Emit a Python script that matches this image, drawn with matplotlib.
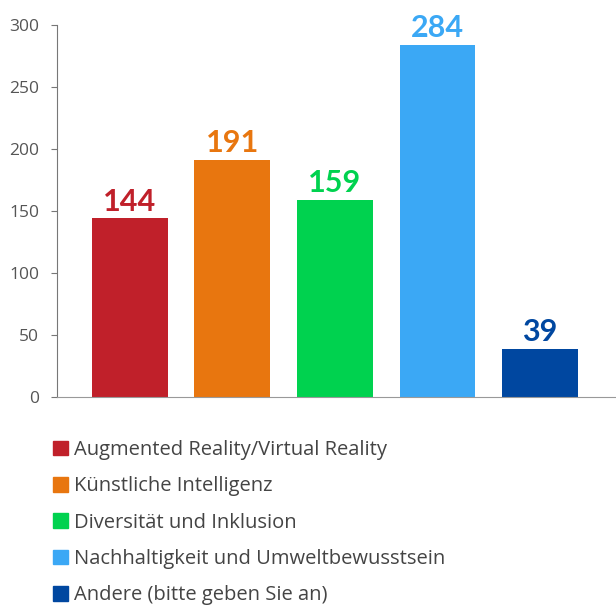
import matplotlib
matplotlib.use("Agg")
import matplotlib.pyplot as plt
from matplotlib.patches import Patch

plt.rcParams['font.family'] = ['Open Sans', 'DejaVu Sans']

categories = ['Augmented Reality/Virtual Reality', 'Künstliche Intelligenz',
              'Diversität und Inklusion', 'Nachhaltigkeit und Umweltbewusstsein',
              'Andere (bitte geben Sie an)']
values = [144, 191, 159, 284, 39]
colors = ['#C0202A', '#E8760F', '#00D24F', '#3BA8F5', '#0047A0']
yticks = [0, 50, 100, 150, 200, 250, 300]

fig = plt.figure(figsize=(6.16, 6.05), dpi=100)
ax = fig.add_axes([57/616, 1-397/605, 1-57/616, (397-25)/605])

x = list(range(len(values)))
bars = ax.bar(x, values, width=0.74, color=colors)
# Werte über den Balken
for b, c in zip(bars, colors):
    ax.annotate(str(int(b.get_height())), (b.get_x()+b.get_width()/2, b.get_height()),
                xytext=(0, 2), textcoords='offset points', ha='center', va='bottom',
                fontsize=22, fontweight='bold', color=c, family=['Lato', 'DejaVu Sans'])

ax.set_xlim(-0.71, 4.74)
ax.set_ylim(0, 300)
ax.set_yticks(yticks)
ax.set_xticks([])
ax.tick_params(axis='y', length=4, width=0.8, color='#777777', labelsize=12.5,
               labelcolor='#555555', pad=9)
for s in ['top', 'right']:
    ax.spines[s].set_visible(False)
ax.spines['left'].set_color('#777777')
ax.spines['bottom'].set_color('#999999')
ax.spines['left'].set_linewidth(0.8)

handles = [Patch(color=c) for c in colors]
fig.legend(handles, categories, loc='upper left', bbox_to_anchor=(53/616, 1-440/605),
           frameon=False, borderaxespad=0, borderpad=0, fontsize=14.5,
           labelspacing=0.81, handlelength=0.75, handleheight=0.75, handletextpad=0.3,
           labelcolor='#444444')

fig.savefig('out.png', dpi=100)
